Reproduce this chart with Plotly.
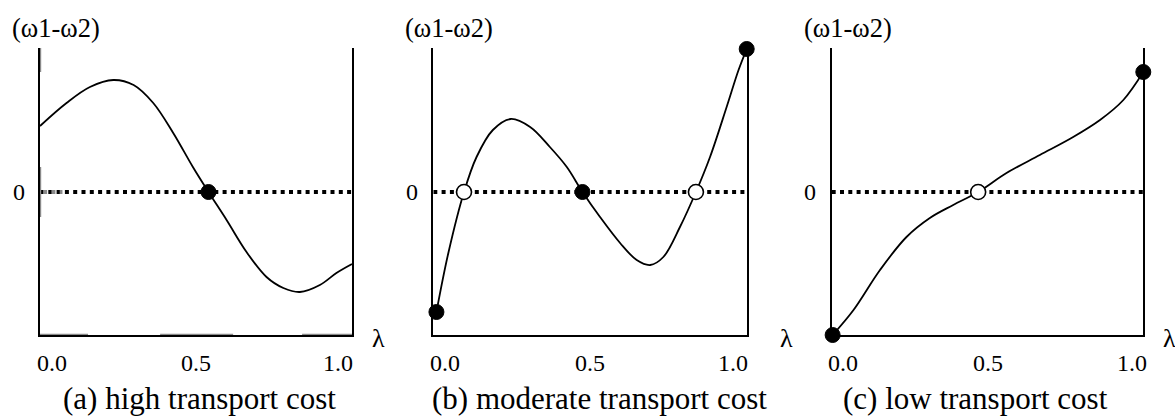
import plotly.graph_objects as go

# ---------------- data ----------------
lam_a = [0, 0.085, 0.16, 0.235, 0.30, 0.363, 0.427, 0.49, 0.54, 0.598, 0.662, 0.726, 0.78, 0.833, 0.897, 0.95, 1.0]
dw_a = [0.66, 0.89, 1.05, 1.12, 1.07, 0.89, 0.59, 0.25, 0.0, -0.28, -0.60, -0.85, -0.96, -1.0, -0.93, -0.81, -0.72]

lam_b = [0.01, 0.048, 0.098, 0.138, 0.19, 0.247, 0.309, 0.372, 0.426, 0.476, 0.532, 0.596, 0.649, 0.692, 0.734, 0.787, 0.838, 0.883, 0.936, 0.974, 1.0]
dw_b = [-1.20, -0.61, 0.0, 0.35, 0.62, 0.73, 0.65, 0.45, 0.25, 0.0, -0.25, -0.51, -0.68, -0.73, -0.65, -0.35, 0.0, 0.35, 0.85, 1.22, 1.43]

lam_c = [0.003, 0.07, 0.155, 0.24, 0.315, 0.39, 0.47, 0.561, 0.668, 0.775, 0.861, 0.936, 1.0]
dw_c = [-1.43, -1.18, -0.78, -0.45, -0.26, -0.13, 0.0, 0.19, 0.37, 0.55, 0.72, 0.92, 1.20]

stable_a_x = [0.54]
stable_a_y = [0.0]
unstable_a_x = []
unstable_a_y = []

stable_b_x = [0.01, 0.476, 1.0]
stable_b_y = [-1.20, 0.0, 1.43]
unstable_b_x = [0.098, 0.838]
unstable_b_y = [0.0, 0.0]

stable_c_x = [0.003, 1.0]
stable_c_y = [-1.43, 1.20]
unstable_c_x = [0.47]
unstable_c_y = [0.0]

tick_vals = [0.0, 0.5, 1.0]
tick_text = ["0.0", "0.5", "1.0"]
captions = ["(a) high transport cost", "(b) moderate transport cost", "(c) low transport cost"]
y_label = "(ω1-ω2)"
x_label = "λ"
zero_label = "0"

# ---------------- layout helpers ----------------
W, H = 1175, 418
FONT = "Liberation Serif, Times New Roman, serif"
Y_RANGE = [-1.43, 1.44]
X_RANGE = [0, 1.0]
x_px = [(40, 352), (433.3, 746.7), (831.7, 1143.3)]
y_px = (48, 335)
y_dom = [1 - y_px[1] / H, 1 - y_px[0] / H]

panels = [
    (lam_a, dw_a, stable_a_x, stable_a_y, unstable_a_x, unstable_a_y),
    (lam_b, dw_b, stable_b_x, stable_b_y, unstable_b_x, unstable_b_y),
    (lam_c, dw_c, stable_c_x, stable_c_y, unstable_c_x, unstable_c_y),
]
tick_shift = [[12, 0, -14], [12, 0, -14], [11, 0, -11]]
lam_shift = [26, 40, 26]
cap_shift = [3, 9, -12]

fig = go.Figure()
annotations = []
shapes = []

for i, (lx, ly, sx, sy, ux, uy) in enumerate(panels):
    n = "" if i == 0 else str(i + 1)
    xa, ya = "x" + n, "y" + n
    # dotted zero line
    fig.add_trace(go.Scatter(x=[0, 1], y=[0, 0], mode="lines", xaxis=xa, yaxis=ya,
                             line=dict(color="black", width=4, dash="4px,4.3px"),
                             showlegend=False, hoverinfo="skip"))
    # curve
    fig.add_trace(go.Scatter(x=lx, y=ly, mode="lines", xaxis=xa, yaxis=ya,
                             line=dict(color="black", width=1.8, shape="spline", smoothing=1.0),
                             showlegend=False, cliponaxis=False))
    # stable (filled)
    if sx:
        fig.add_trace(go.Scatter(x=sx, y=sy, mode="markers", xaxis=xa, yaxis=ya,
                                 marker=dict(size=15, color="black", line=dict(color="black", width=1)),
                                 showlegend=False, cliponaxis=False))
    # unstable (open)
    if ux:
        fig.add_trace(go.Scatter(x=ux, y=uy, mode="markers", xaxis=xa, yaxis=ya,
                                 marker=dict(size=15, color="white", line=dict(color="black", width=1.6)),
                                 showlegend=False, cliponaxis=False))

    dom = [x_px[i][0] / W, x_px[i][1] / W]
    fig.update_layout(**{
        "xaxis" + n: dict(domain=dom, range=X_RANGE, showgrid=False, zeroline=False,
                          showticklabels=False, ticks="", showline=True, linecolor="black",
                          linewidth=2.2, mirror=False, fixedrange=True, anchor=ya),
        "yaxis" + n: dict(domain=y_dom, range=Y_RANGE, showgrid=False, zeroline=False,
                          showticklabels=False, ticks="", showline=True, linecolor="black",
                          linewidth=2.2, mirror=True, anchor=xa, fixedrange=True),
    })

    # tick labels
    for v, t, sh in zip(tick_vals, tick_text, tick_shift[i]):
        annotations.append(dict(x=v, y=Y_RANGE[0], xref=xa, yref=ya, text=t, showarrow=False,
                                xanchor="center", yanchor="middle", xshift=sh, yshift=-28,
                                font=dict(family=FONT, size=24, color="black")))
    # zero label
    annotations.append(dict(x=0, y=0, xref=xa, yref=ya, text=zero_label, showarrow=False,
                            xanchor="center", yanchor="middle", xshift=-21.5, yshift=0,
                            font=dict(family=FONT, size=24, color="black")))
    # y label
    annotations.append(dict(x=0, y=Y_RANGE[1], xref=xa, yref=ya, text=y_label, showarrow=False,
                            xanchor="center", yanchor="middle", xshift=16, yshift=20,
                            font=dict(family=FONT, size=26.5, color="black")))
    # lambda
    annotations.append(dict(x=1, y=Y_RANGE[0], xref=xa, yref=ya, text=x_label, showarrow=False,
                            xanchor="center", yanchor="middle", xshift=lam_shift[i], yshift=-3,
                            font=dict(family=FONT, size=26, color="black")))
    # caption
    annotations.append(dict(x=0.5, y=Y_RANGE[0], xref=xa, yref=ya, text=captions[i], showarrow=False,
                            xanchor="center", yanchor="middle", xshift=cap_shift[i], yshift=-63,
                            font=dict(family=FONT, size=31, color="black")))

# faint grey segments seen on panel (a)'s axes in the original
grey = "#8a8a8a"
for (y0, y1) in [(1.44, 1.20), (0.25, -0.25)]:
    shapes.append(dict(type="line", xref="x", yref="y", x0=0, x1=0, y0=y0, y1=y1,
                       line=dict(color=grey, width=2.4), layer="above"))
for (x0, x1) in [(0, 0.154), (0.385, 0.619), (0.84, 1.0)]:
    shapes.append(dict(type="line", xref="x", yref="y", x0=x0, x1=x1, y0=Y_RANGE[0], y1=Y_RANGE[0],
                       line=dict(color=grey, width=2.4), layer="above"))
shapes.append(dict(type="line", xref="x", yref="y", x0=0.01, x1=0.072, y0=0, y1=0,
                   line=dict(color=grey, width=4, dash="4px,4.3px"), layer="above"))

fig.update_layout(width=W, height=H, margin=dict(l=0, r=0, t=0, b=0),
                  paper_bgcolor="white", plot_bgcolor="white",
                  annotations=annotations, shapes=shapes, showlegend=False)

fig.write_html("out.html")
